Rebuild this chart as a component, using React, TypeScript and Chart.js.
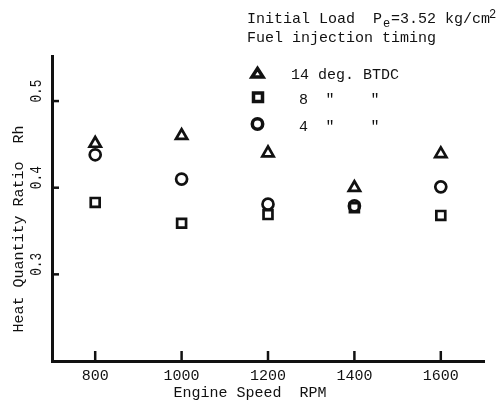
import React, { useEffect, useRef } from "react";
import { Chart, registerables } from "chart.js";

Chart.register(...registerables);

const rpm = [800, 1000, 1200, 1400, 1600];
const deg14 = [0.451, 0.46, 0.44, 0.4, 0.439];
const deg8 = [0.383, 0.359, 0.369, 0.377, 0.368];
const deg4 = [0.438, 0.41, 0.381, 0.379, 0.401];

const xTickValues = [800, 1000, 1200, 1400, 1600];
const xTickLabels = ["800", "1000", "1200", "1400", "1600"];
const yTickValues = [0.3, 0.4, 0.5];
const yTickLabels = ["0.3", "0.4", "0.5"];

const legendLabels = ["14 deg. BTDC", "8", "4"];
const xTitle = "Engine Speed  RPM";
const yTitle = "Heat Quantity Ratio  Rh";

const INK = "#111";
const FONT = "Liberation Mono";

const annotations = {
  id: "annotations",
  afterDraw(chart: any) {
    const ctx = chart.ctx as CanvasRenderingContext2D;
    const xs = chart.scales.x;
    const ys = chart.scales.y;
    const left = chart.chartArea.left;
    const bottom = chart.chartArea.bottom;
    ctx.save();
    ctx.strokeStyle = INK;
    ctx.fillStyle = INK;

    // inward ticks
    ctx.lineWidth = 2.5;
    yTickValues.forEach((v) => {
      const py = ys.getPixelForValue(v);
      ctx.beginPath();
      ctx.moveTo(left, py);
      ctx.lineTo(left + 7, py);
      ctx.stroke();
    });
    xTickValues.forEach((v) => {
      const px = xs.getPixelForValue(v);
      ctx.beginPath();
      ctx.moveTo(px, bottom);
      ctx.lineTo(px, bottom - 10);
      ctx.stroke();
    });

    // x tick labels
    ctx.font = `15px "${FONT}"`;
    ctx.textAlign = "center";
    ctx.textBaseline = "alphabetic";
    xTickValues.forEach((v, i) => {
      ctx.fillText(xTickLabels[i], xs.getPixelForValue(v), 380);
    });
    // x title
    ctx.fillText(xTitle, 250, 397);

    // y tick labels (rotated, condensed)
    yTickValues.forEach((v, i) => {
      const py = ys.getPixelForValue(v);
      ctx.save();
      ctx.translate(37, py - 10);
      ctx.rotate(-Math.PI / 2);
      ctx.scale(0.8, 1);
      ctx.font = `16px "${FONT}"`;
      ctx.textAlign = "center";
      ctx.textBaseline = "middle";
      ctx.fillText(yTickLabels[i], 0, 0);
      ctx.restore();
    });
    // y title
    ctx.save();
    ctx.translate(19, 229);
    ctx.rotate(-Math.PI / 2);
    ctx.textAlign = "center";
    ctx.textBaseline = "middle";
    ctx.fillText(yTitle, 0, 0);
    ctx.restore();

    // header text
    ctx.textAlign = "left";
    ctx.textBaseline = "alphabetic";
    ctx.font = `15px "${FONT}"`;
    ctx.fillText("Initial Load  P", 247, 23);
    ctx.font = `12px "${FONT}"`;
    ctx.fillText("e", 383, 27);
    ctx.font = `15px "${FONT}"`;
    ctx.fillText("=3.52 kg/cm", 391, 23);
    ctx.font = `12px "${FONT}"`;
    ctx.fillText("2", 489, 18);
    ctx.font = `15px "${FONT}"`;
    ctx.fillText("Fuel injection timing", 247, 42);

    // legend rows
    ctx.fillText(legendLabels[0], 291, 79);
    ctx.fillText(legendLabels[1], 299, 104);
    ctx.fillText(legendLabels[2], 299, 131);
    ctx.textAlign = "center";
    [104, 131].forEach((by) => {
      ctx.fillText('"', 330, by);
      ctx.fillText('"', 375, by);
    });

    // legend markers
    ctx.lineWidth = 3.5;
    ctx.lineJoin = "miter";
    ctx.beginPath();
    ctx.moveTo(257.5, 68.5);
    ctx.lineTo(263, 77);
    ctx.lineTo(252, 77);
    ctx.closePath();
    ctx.stroke();
    ctx.beginPath();
    ctx.rect(253.5, 93, 9, 8.5);
    ctx.stroke();
    ctx.beginPath();
    ctx.arc(257.5, 124, 5.2, 0, Math.PI * 2);
    ctx.stroke();

    ctx.restore();
  },
};

export default function App() {
  const ref = useRef<HTMLCanvasElement | null>(null);
  useEffect(() => {
    if (!ref.current) return;
    const mk = (vals: number[]) => rpm.map((x, i) => ({ x, y: vals[i] }));
    const common = {
      showLine: false,
      borderColor: INK,
      backgroundColor: "rgba(0,0,0,0)",
      pointBorderColor: INK,
      pointBackgroundColor: "rgba(0,0,0,0)",
      pointBorderWidth: 2.7,
    };
    const chart = new Chart(ref.current, {
      type: "scatter",
      data: {
        datasets: [
          { ...common, label: "14 deg. BTDC", data: mk(deg14), pointStyle: "triangle", pointRadius: 6.5 },
          { ...common, label: "8", data: mk(deg8), pointStyle: "rect", pointRadius: 6.3 },
          { ...common, label: "4", data: mk(deg4), pointStyle: "circle", pointRadius: 5.5 },
        ],
      },
      options: {
        responsive: false,
        animation: false,
        devicePixelRatio: 1,
        layout: { padding: { left: 52, right: 17, top: 56, bottom: 40 } },
        plugins: { legend: { display: false }, tooltip: { enabled: false } },
        scales: {
          x: {
            type: "linear",
            min: 700,
            max: 1700,
            grid: { display: false, drawTicks: false },
            ticks: { display: false },
            border: { display: true, width: 3, color: INK },
          },
          y: {
            type: "linear",
            min: 0.2,
            max: 0.552,
            grid: { display: false, drawTicks: false },
            ticks: { display: false },
            border: { display: true, width: 3, color: INK },
          },
        },
      },
      plugins: [annotations],
    } as any);
    return () => chart.destroy();
  }, []);
  return (
    <div style={{ position: "absolute", left: 0, top: 0, width: 501, height: 401, background: "#fff" }}>
      <canvas ref={ref} width={501} height={401} />
    </div>
  );
}
